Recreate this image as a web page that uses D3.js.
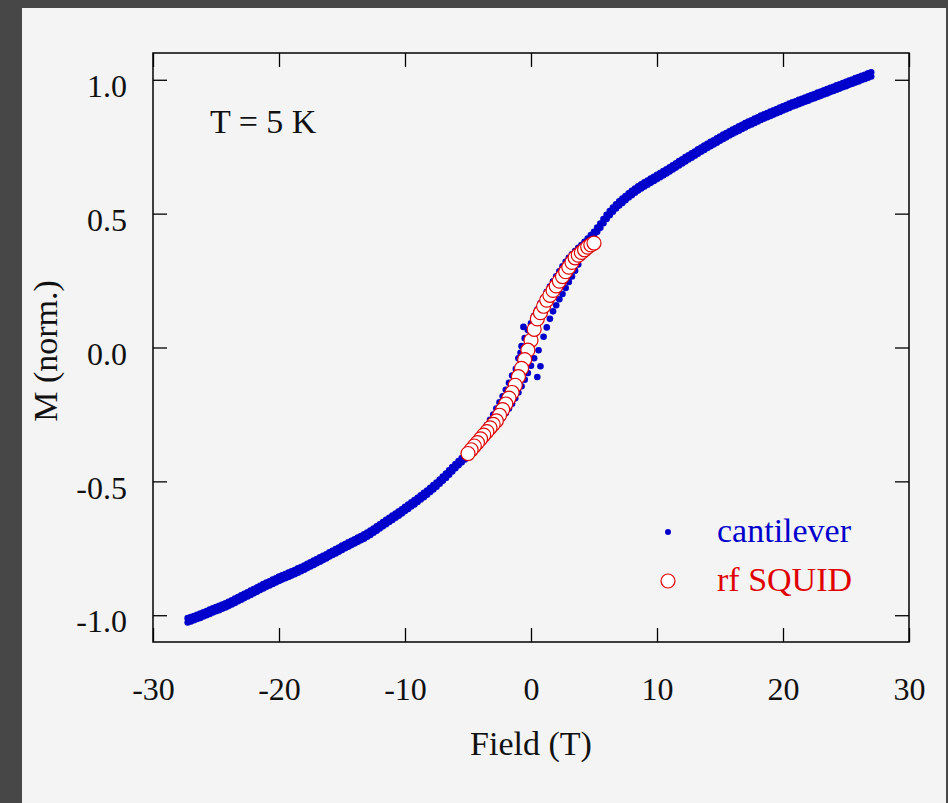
<!DOCTYPE html>
<html>
<head>
<meta charset="utf-8">
<script src="https://cdn.jsdelivr.net/npm/d3@7"></script>
<style>
    html, body {
        margin: 0;
        padding: 0;
        background: #474747;
    }
    svg {
        display: block;
    }
</style>
</head>
<body>
<div id="chart"></div>
<script>
// cantilever, rising field sweep: [field (T), M (norm.)]
const cantileverUp = [
    [-27.25, -1.027], [-27, -1.023], [-26.75, -1.019], [-26.5, -1.014], [-26.25, -1.010],
    [-26, -1.005], [-25.75, -1.000], [-25.5, -0.995], [-25.25, -0.990], [-25, -0.985],
    [-24.75, -0.981], [-24.5, -0.976], [-24.25, -0.971], [-24, -0.966], [-23.75, -0.960],
    [-23.5, -0.954], [-23.25, -0.948], [-23, -0.942], [-22.75, -0.936], [-22.5, -0.930],
    [-22.25, -0.924], [-22, -0.918], [-21.75, -0.912], [-21.5, -0.906], [-21.25, -0.900],
    [-21, -0.894], [-20.75, -0.889], [-20.5, -0.883], [-20.25, -0.878], [-20, -0.872],
    [-19.75, -0.867], [-19.5, -0.862], [-19.25, -0.857], [-19, -0.852], [-18.75, -0.847],
    [-18.5, -0.841], [-18.25, -0.836], [-18, -0.830], [-17.75, -0.824], [-17.5, -0.818],
    [-17.25, -0.812], [-17, -0.806], [-16.75, -0.800], [-16.5, -0.794], [-16.25, -0.788],
    [-16, -0.781], [-15.75, -0.775], [-15.5, -0.769], [-15.25, -0.763], [-15, -0.756],
    [-14.75, -0.750], [-14.5, -0.744], [-14.25, -0.738], [-14, -0.732], [-13.75, -0.726],
    [-13.5, -0.720], [-13.25, -0.714], [-13, -0.707], [-12.75, -0.700], [-12.5, -0.692],
    [-12.25, -0.684], [-12, -0.676], [-11.75, -0.668], [-11.5, -0.660], [-11.25, -0.652],
    [-11, -0.644], [-10.75, -0.636], [-10.5, -0.628], [-10.25, -0.620], [-10, -0.611],
    [-9.75, -0.603], [-9.5, -0.594], [-9.25, -0.586], [-9, -0.577], [-8.75, -0.568],
    [-8.5, -0.559], [-8.25, -0.550], [-8, -0.540], [-7.75, -0.530], [-7.5, -0.520],
    [-7.25, -0.509], [-7, -0.498], [-6.75, -0.487], [-6.5, -0.475], [-6.25, -0.463],
    [-6, -0.451], [-5.75, -0.440], [-5.5, -0.429], [-5.25, -0.418], [-5, -0.406],
    [-4.75, -0.392], [-4.5, -0.380], [-4.25, -0.368], [-4, -0.355], [-3.75, -0.342],
    [-3.5, -0.330], [-3.25, -0.318], [-3, -0.305], [-2.75, -0.292], [-2.5, -0.278],
    [-2.25, -0.262], [-2, -0.245], [-1.75, -0.228], [-1.5, -0.210], [-1.25, -0.190],
    [-1, -0.168], [-0.75, -0.145], [-0.5, -0.120], [-0.25, -0.095], [0, -0.068],
    [0.25, -0.040], [0.5, -0.110], [0.6, -0.010], [0.75, -0.070], [1, 0.040],
    [1.25, 0.075], [1.5, 0.107], [1.75, 0.135], [2, 0.158], [2.25, 0.180],
    [2.5, 0.200], [2.75, 0.222], [3, 0.245], [3.25, 0.265], [3.5, 0.287],
    [3.75, 0.310], [4, 0.335], [4.25, 0.360], [4.5, 0.383], [4.75, 0.403],
    [5, 0.420], [5.25, 0.432], [5.5, 0.447], [5.75, 0.464], [6, 0.480],
    [6.25, 0.494], [6.5, 0.507], [6.75, 0.519], [7, 0.530], [7.25, 0.540],
    [7.5, 0.550], [7.75, 0.560], [8, 0.569], [8.25, 0.578], [8.5, 0.586],
    [8.75, 0.594], [9, 0.601], [9.25, 0.608], [9.5, 0.615], [9.75, 0.622],
    [10, 0.629], [10.25, 0.636], [10.5, 0.643], [10.75, 0.650], [11, 0.657],
    [11.25, 0.665], [11.5, 0.672], [11.75, 0.680], [12, 0.687], [12.25, 0.695],
    [12.5, 0.702], [12.75, 0.709], [13, 0.716], [13.25, 0.724], [13.5, 0.731],
    [13.75, 0.738], [14, 0.745], [14.25, 0.752], [14.5, 0.758], [14.75, 0.765],
    [15, 0.772], [15.25, 0.779], [15.5, 0.785], [15.75, 0.792], [16, 0.798],
    [16.25, 0.804], [16.5, 0.810], [16.75, 0.816], [17, 0.822], [17.25, 0.828],
    [17.5, 0.833], [17.75, 0.839], [18, 0.844], [18.25, 0.850], [18.5, 0.855],
    [18.75, 0.860], [19, 0.865], [19.25, 0.870], [19.5, 0.875], [19.75, 0.880],
    [20, 0.885], [20.25, 0.890], [20.5, 0.895], [20.75, 0.900], [21, 0.904],
    [21.25, 0.909], [21.5, 0.913], [21.75, 0.918], [22, 0.922], [22.25, 0.927],
    [22.5, 0.931], [22.75, 0.936], [23, 0.940], [23.25, 0.945], [23.5, 0.949],
    [23.75, 0.954], [24, 0.958], [24.25, 0.963], [24.5, 0.967], [24.75, 0.972],
    [25, 0.976], [25.25, 0.981], [25.5, 0.985], [25.75, 0.990], [26, 0.994],
    [26.25, 0.999], [26.5, 1.003], [26.75, 1.008], [27, 1.012],
];

// cantilever, falling field sweep
const cantileverDown = [
    [27, 1.028], [26.75, 1.024], [26.5, 1.019], [26.25, 1.015], [26, 1.010],
    [25.75, 1.006], [25.5, 1.001], [25.25, 0.997], [25, 0.992], [24.75, 0.988],
    [24.5, 0.983], [24.25, 0.979], [24, 0.974], [23.75, 0.970], [23.5, 0.965],
    [23.25, 0.961], [23, 0.956], [22.75, 0.952], [22.5, 0.947], [22.25, 0.943],
    [22, 0.938], [21.75, 0.934], [21.5, 0.929], [21.25, 0.925], [21, 0.920],
    [20.75, 0.916], [20.5, 0.911], [20.25, 0.906], [20, 0.901], [19.75, 0.896],
    [19.5, 0.891], [19.25, 0.886], [19, 0.881], [18.75, 0.876], [18.5, 0.871],
    [18.25, 0.866], [18, 0.860], [17.75, 0.855], [17.5, 0.849], [17.25, 0.844],
    [17, 0.838], [16.75, 0.832], [16.5, 0.826], [16.25, 0.820], [16, 0.814],
    [15.75, 0.808], [15.5, 0.801], [15.25, 0.795], [15, 0.788], [14.75, 0.781],
    [14.5, 0.774], [14.25, 0.768], [14, 0.761], [13.75, 0.754], [13.5, 0.747],
    [13.25, 0.740], [13, 0.732], [12.75, 0.725], [12.5, 0.718], [12.25, 0.711],
    [12, 0.703], [11.75, 0.696], [11.5, 0.688], [11.25, 0.681], [11, 0.673],
    [10.75, 0.666], [10.5, 0.659], [10.25, 0.652], [10, 0.645], [9.75, 0.638],
    [9.5, 0.631], [9.25, 0.624], [9, 0.617], [8.75, 0.610], [8.5, 0.602],
    [8.25, 0.594], [8, 0.585], [7.75, 0.576], [7.5, 0.566], [7.25, 0.556],
    [7, 0.546], [6.75, 0.535], [6.5, 0.523], [6.25, 0.510], [6, 0.496],
    [5.75, 0.480], [5.5, 0.463], [5.25, 0.448], [5, 0.432], [4.75, 0.420],
    [4.5, 0.407], [4.25, 0.395], [4, 0.383], [3.75, 0.372], [3.5, 0.360],
    [3.25, 0.348], [3, 0.335], [2.75, 0.320], [2.5, 0.303], [2.25, 0.285],
    [2, 0.266], [1.75, 0.247], [1.5, 0.228], [1.25, 0.208], [1, 0.186],
    [0.75, 0.165], [0.5, 0.142], [0.25, 0.118], [0, 0.090], [-0.25, 0.065],
    [-0.5, 0.035], [-0.6, 0.077], [-0.75, 0.005], [-0.83, -0.020], [-1, -0.040],
    [-1.2, -0.080], [-1.5, -0.105], [-1.75, -0.132], [-2, -0.158], [-2.25, -0.182],
    [-2.5, -0.205], [-2.75, -0.228], [-3, -0.250], [-3.25, -0.270], [-3.5, -0.290],
    [-3.75, -0.308], [-4, -0.326], [-4.25, -0.344], [-4.5, -0.362], [-4.75, -0.378],
    [-5, -0.392], [-5.25, -0.402], [-5.5, -0.413], [-5.75, -0.424], [-6, -0.435],
    [-6.25, -0.447], [-6.5, -0.459], [-6.75, -0.471], [-7, -0.482], [-7.25, -0.493],
    [-7.5, -0.504], [-7.75, -0.514], [-8, -0.524], [-8.25, -0.534], [-8.5, -0.543],
    [-8.75, -0.552], [-9, -0.561], [-9.25, -0.570], [-9.5, -0.578], [-9.75, -0.587],
    [-10, -0.595], [-10.25, -0.604], [-10.5, -0.612], [-10.75, -0.620], [-11, -0.628],
    [-11.25, -0.636], [-11.5, -0.644], [-11.75, -0.652], [-12, -0.660], [-12.25, -0.668],
    [-12.5, -0.676], [-12.75, -0.684], [-13, -0.691], [-13.25, -0.698], [-13.5, -0.704],
    [-13.75, -0.710], [-14, -0.716], [-14.25, -0.722], [-14.5, -0.728], [-14.75, -0.734],
    [-15, -0.740], [-15.25, -0.747], [-15.5, -0.753], [-15.75, -0.759], [-16, -0.765],
    [-16.25, -0.772], [-16.5, -0.778], [-16.75, -0.784], [-17, -0.790], [-17.25, -0.796],
    [-17.5, -0.802], [-17.75, -0.808], [-18, -0.814], [-18.25, -0.820], [-18.5, -0.825],
    [-18.75, -0.831], [-19, -0.836], [-19.25, -0.841], [-19.5, -0.846], [-19.75, -0.851],
    [-20, -0.856], [-20.25, -0.862], [-20.5, -0.867], [-20.75, -0.873], [-21, -0.878],
    [-21.25, -0.884], [-21.5, -0.890], [-21.75, -0.896], [-22, -0.902], [-22.25, -0.908],
    [-22.5, -0.914], [-22.75, -0.920], [-23, -0.926], [-23.25, -0.932], [-23.5, -0.938],
    [-23.75, -0.944], [-24, -0.950], [-24.25, -0.955], [-24.5, -0.960], [-24.75, -0.965],
    [-25, -0.969], [-25.25, -0.974], [-25.5, -0.979], [-25.75, -0.984], [-26, -0.989],
    [-26.25, -0.994], [-26.5, -0.998], [-26.75, -1.003], [-27, -1.007], [-27.25, -1.011],
];

// rf SQUID, measured outward from zero field
const squid = [
    [0, 0.027], [0.25, 0.068], [0.5, 0.107], [0.75, 0.130], [1, 0.154],
    [1.25, 0.177], [1.5, 0.195], [1.75, 0.213], [2, 0.230], [2.25, 0.248],
    [2.5, 0.265], [2.75, 0.283], [3, 0.300], [3.25, 0.318], [3.5, 0.335],
    [3.75, 0.345], [4, 0.355], [4.25, 0.365], [4.5, 0.375], [4.75, 0.383],
    [5, 0.390],
    [-0.25, -0.010], [-0.5, -0.045], [-0.75, -0.078], [-1, -0.109], [-1.25, -0.141],
    [-1.5, -0.168], [-1.75, -0.189], [-2, -0.211], [-2.25, -0.232], [-2.5, -0.253],
    [-2.75, -0.274], [-3, -0.287], [-3.25, -0.300], [-3.5, -0.314], [-3.75, -0.327],
    [-4, -0.341], [-4.25, -0.355], [-4.5, -0.368], [-4.75, -0.382], [-5, -0.396],
];

const xTicks = [-30, -20, -10, 0, 10, 20, 30];
const xTickLabels = ['-30', '-20', '-10', '0', '10', '20', '30'];
const yTicks = [-1, -0.5, 0, 0.5, 1];
const yTickLabels = ['-1.0', '-0.5', '0.0', '0.5', '1.0'];

const legendItems = ['cantilever', 'rf SQUID'];

const width = 948;
const height = 803;
const plot = {left: 153, right: 909, top: 53, bottom: 642};
const blue = '#0000cc';
const red = '#e00000';
const font = '"Liberation Serif", "Times New Roman", serif';

const svg = d3
    .select('#chart')
    .append('svg')
    .attr('width', width)
    .attr('height', height);

// light panel over the dark backdrop
svg.append('rect')
    .attr('x', 22)
    .attr('y', 8)
    .attr('width', 924)
    .attr('height', height - 8)
    .attr('fill', '#f4f4f4');

const x = d3
    .scaleLinear()
    .domain([-30, 30])
    .range([plot.left, plot.right]);

const y = d3
    .scaleLinear()
    .domain([-1.1, 1.1])
    .range([plot.bottom, plot.top]);

const tickLen = 14;

const styleAxis = (g) => {
    g.select('.domain').remove();
    g.selectAll('.tick line')
        .attr('stroke', '#000')
        .attr('stroke-width', 1.3);
    g.selectAll('.tick text')
        .attr('fill', '#111')
        .style('font-family', font)
        .style('font-size', '32px');
};

svg.append('g')
    .attr('transform', 'translate(0,' + plot.bottom + ')')
    .call(d3.axisBottom(x)
        .tickValues(xTicks)
        .tickFormat((d, i) => xTickLabels[i])
        .tickSizeInner(-tickLen)
        .tickSizeOuter(0)
        .tickPadding(35))
    .call(styleAxis);

svg.append('g')
    .attr('transform', 'translate(0,' + plot.top + ')')
    .call(d3.axisTop(x)
        .tickValues(xTicks)
        .tickFormat('')
        .tickSizeInner(-tickLen)
        .tickSizeOuter(0))
    .call(styleAxis);

svg.append('g')
    .attr('transform', 'translate(' + plot.left + ',0)')
    .call(d3.axisLeft(y)
        .tickValues(yTicks)
        .tickFormat((d, i) => yTickLabels[i])
        .tickSizeInner(-tickLen)
        .tickSizeOuter(0)
        .tickPadding(26))
    .call(styleAxis)
    .call((g) => g.selectAll('.tick text').attr('dy', '0.52em'));

svg.append('g')
    .attr('transform', 'translate(' + plot.right + ',0)')
    .call(d3.axisRight(y)
        .tickValues(yTicks)
        .tickFormat('')
        .tickSizeInner(-tickLen)
        .tickSizeOuter(0))
    .call(styleAxis);

// frame
svg.append('rect')
    .attr('x', plot.left)
    .attr('y', plot.top)
    .attr('width', plot.right - plot.left)
    .attr('height', plot.bottom - plot.top)
    .attr('fill', 'none')
    .attr('stroke', '#000')
    .attr('stroke-width', 1.5);

const dots = svg.append('g');

[cantileverUp, cantileverDown].forEach((series) => {
    dots.selectAll(null)
        .data(series)
        .enter()
        .append('circle')
        .attr('cx', (d) => x(d[0]))
        .attr('cy', (d) => y(d[1]))
        .attr('r', 3.3)
        .attr('fill', blue);
});

svg.append('g')
    .selectAll('circle')
    .data(squid)
    .enter()
    .append('circle')
    .attr('cx', (d) => x(d[0]))
    .attr('cy', (d) => y(d[1]))
    .attr('r', 7)
    .attr('fill', '#fff')
    .attr('stroke', red)
    .attr('stroke-width', 1.2);

// axis titles
svg.append('text')
    .attr('x', (plot.left + plot.right) / 2)
    .attr('y', 755)
    .attr('text-anchor', 'middle')
    .attr('fill', '#111')
    .style('font-family', font)
    .style('font-size', '34px')
    .text('Field (T)');

svg.append('text')
    .attr('transform', 'translate(57,351) rotate(-90)')
    .attr('text-anchor', 'middle')
    .attr('fill', '#111')
    .style('font-family', font)
    .style('font-size', '34px')
    .text('M (norm.)');

svg.append('text')
    .attr('x', 210)
    .attr('y', 133)
    .attr('fill', '#111')
    .style('font-family', font)
    .style('font-size', '34px')
    .text('T = 5 K');

// legend
const legend = svg.append('g');

legend.append('circle')
    .attr('cx', 668)
    .attr('cy', 532)
    .attr('r', 3)
    .attr('fill', blue);

legend.append('circle')
    .attr('cx', 668)
    .attr('cy', 581)
    .attr('r', 7)
    .attr('fill', '#fff')
    .attr('stroke', red)
    .attr('stroke-width', 1.2);

legend.selectAll('text')
    .data(legendItems)
    .enter()
    .append('text')
    .attr('x', 717)
    .attr('y', (d, i) => 542 + i * 49)
    .attr('fill', (d, i) => (i === 0 ? blue : red))
    .style('font-family', font)
    .style('font-size', '34px')
    .text((d) => d);
</script>
</body>
</html>
